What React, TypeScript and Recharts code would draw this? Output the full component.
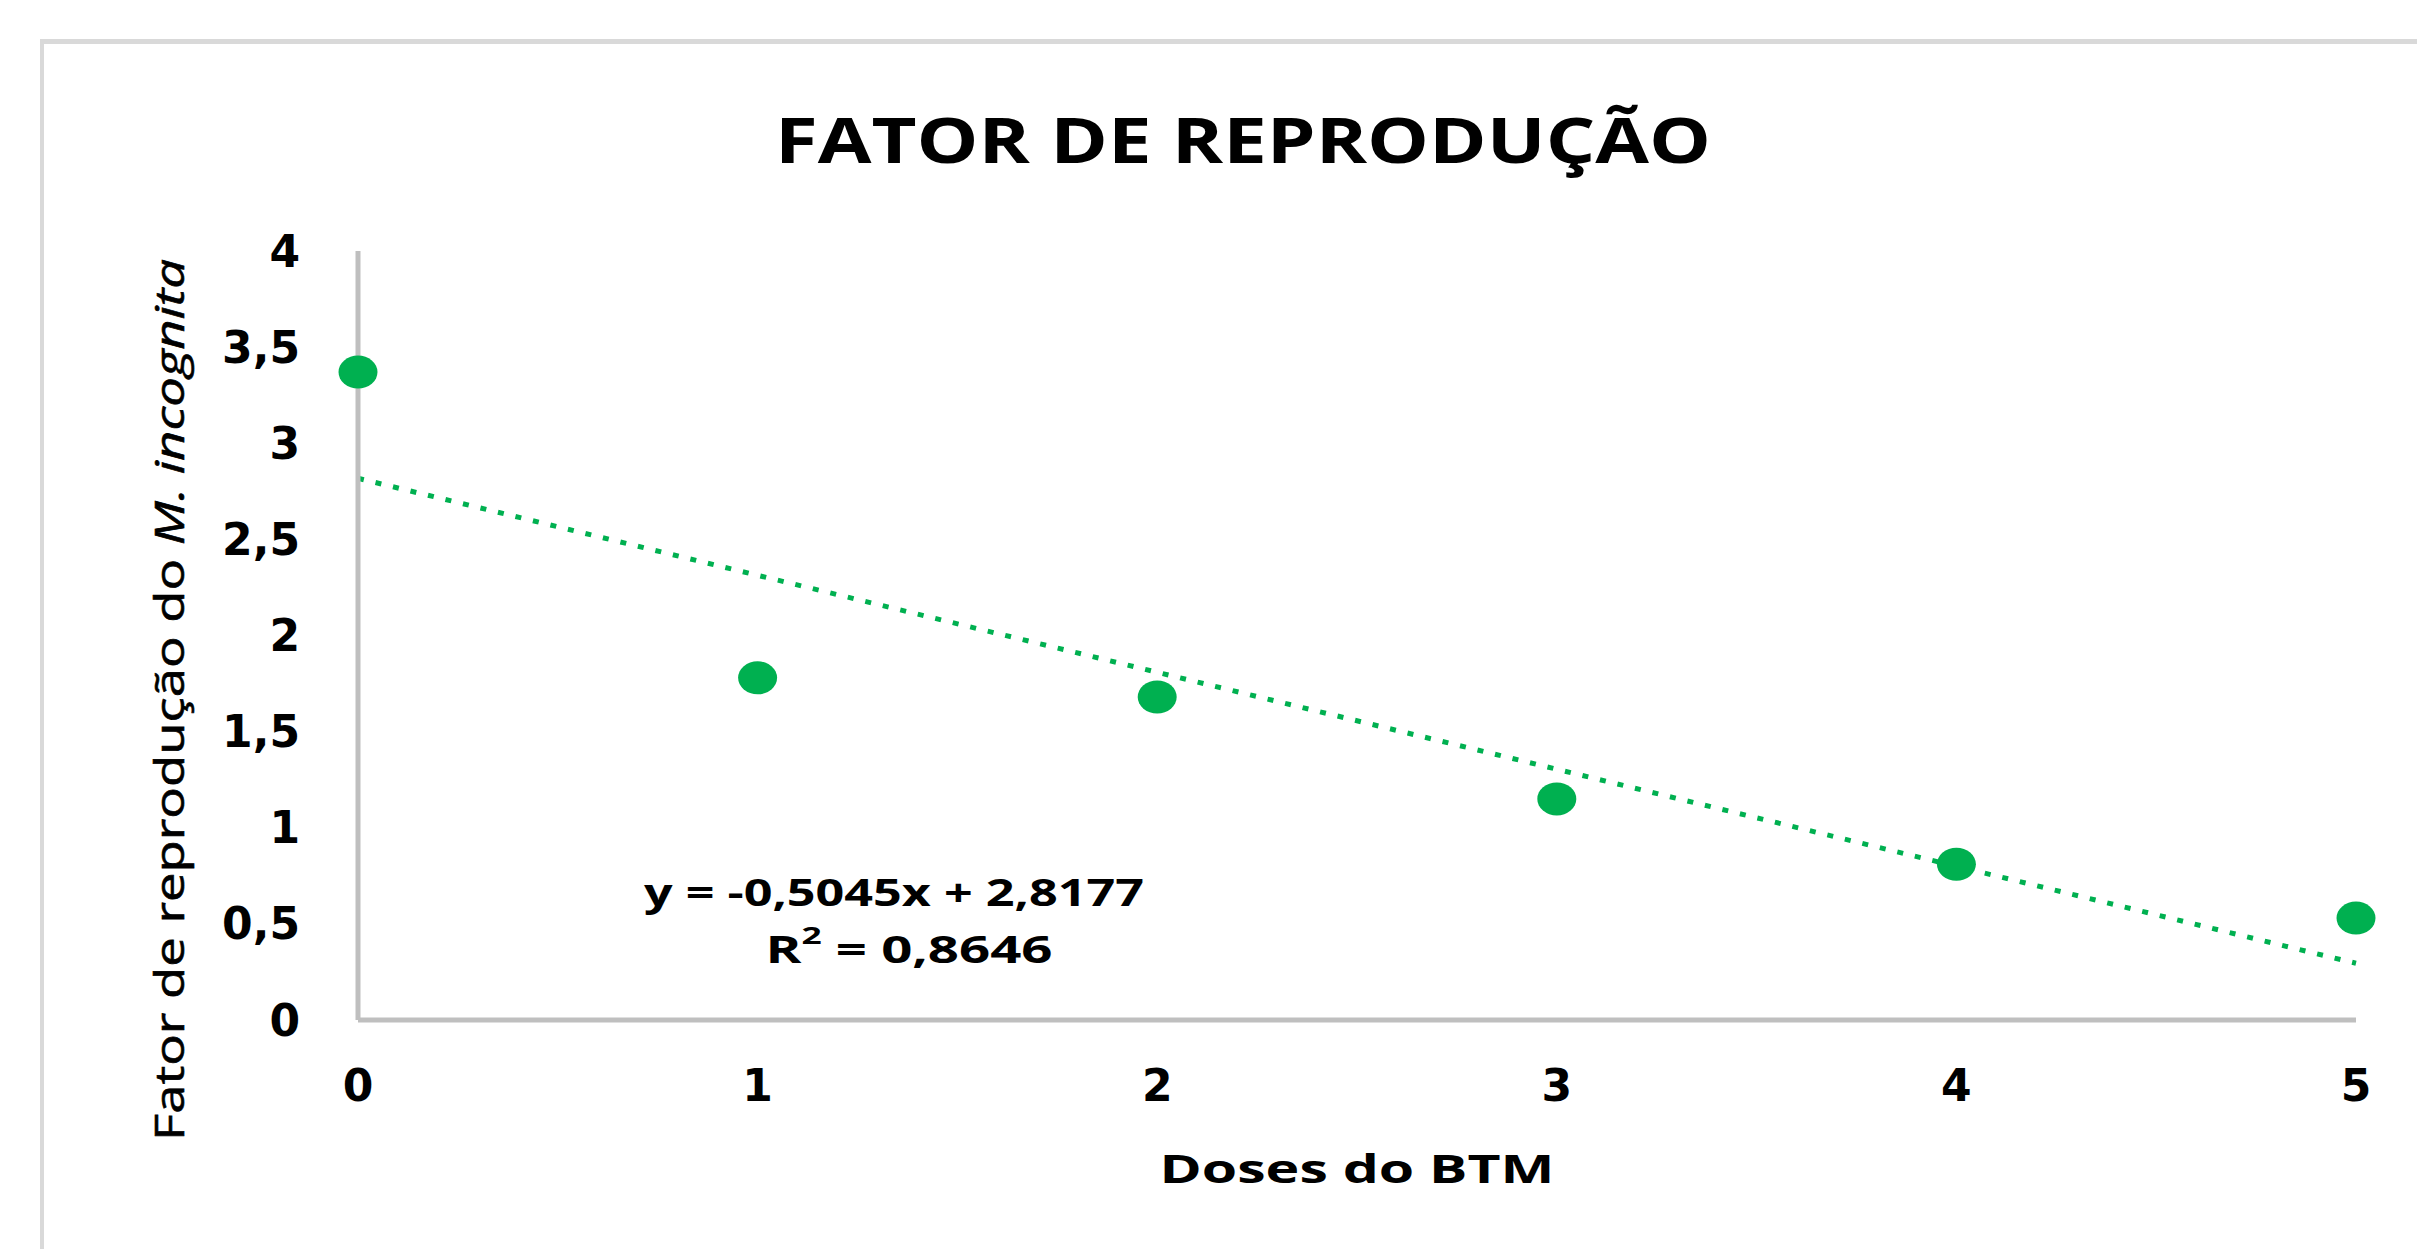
import { ScatterChart, Scatter, XAxis, YAxis, ReferenceLine, Customized, Label } from "recharts";

const doses = [0, 1, 2, 3, 4, 5];
const fatorReproducao = [3.37, 1.78, 1.68, 1.15, 0.81, 0.53];
const yTicks = [0, 0.5, 1, 1.5, 2, 2.5, 3, 3.5, 4];
const xTicks = [0, 1, 2, 3, 4, 5];
const slope = -0.5045;
const intercept = 2.8177;
const rSquared = 0.8646;

const points = doses.map((x, i) => ({ x, y: fatorReproducao[i] }));
const green = "#00B050";
const axisGrey = "#BFBFBF";
const font = "'Open Sans', 'Noto Sans', sans-serif";
const tickFont = "'DejaVu Sans', sans-serif";

const fmt = (v: number, d?: number) =>
  (d === undefined ? String(v) : v.toFixed(d)).replace(".", ",");

const Dot = (props: any) => (
  <ellipse cx={props.cx} cy={props.cy} rx={19.5} ry={16.5} fill={green} />
);

const Overlay = () => (
  <g fontFamily={font} fill="#000">
    <text x={1243} y={139} textAnchor="middle" dominantBaseline="central" fontSize={62}
      fontWeight={700} textLength={936} lengthAdjust="spacingAndGlyphs">
      FATOR DE REPRODUÇÃO
    </text>
    <text x={894} y={891} textAnchor="middle" dominantBaseline="central" fontSize={37}
      fontWeight={700} textLength={500} lengthAdjust="spacingAndGlyphs">
      {`y = ${fmt(slope)}x + ${fmt(intercept)}`}
    </text>
    <text x={909} y={948} textAnchor="middle" dominantBaseline="central" fontSize={37}
      fontWeight={700} textLength={287} lengthAdjust="spacingAndGlyphs">
      R<tspan dy={-14} fontSize={24}>2</tspan><tspan dy={14}>{` = ${fmt(rSquared)}`}</tspan>
    </text>
  </g>
);

const YLabel = () => (
  <text x={0} y={0} transform="translate(184,700) rotate(-90)" textAnchor="middle"
    fontFamily={font} fontSize={41} fill="#000" stroke="#000" strokeWidth={0.6}
    textLength={882} lengthAdjust="spacingAndGlyphs">
    Fator de reprodução do <tspan fontStyle="italic">M. incognita</tspan>
  </text>
);

const XLabel = () => (
  <text x={1357} y={1167} textAnchor="middle" dominantBaseline="central" fontFamily={font}
    fontSize={40} fontWeight={700} fill="#000" textLength={395} lengthAdjust="spacingAndGlyphs">
    Doses do BTM
  </text>
);

export default function App() {
  return (
    <div style={{ position: "absolute", left: 0, top: 0, width: 2417, height: 1249, background: "#fff" }}>
      <div style={{ position: "absolute", left: 40, top: 39, width: 2400, height: 1300,
        borderTop: "5px solid #D9D9D9", borderLeft: "4px solid #D9D9D9" }} />
      <div style={{ position: "absolute", left: 0, top: 0 }}>
        <ScatterChart width={2417} height={1249} margin={{ top: 251, right: 61, left: 0, bottom: 0 }}>
          <XAxis type="number" dataKey="x" domain={[0, 5]} ticks={xTicks} height={229}
            axisLine={{ stroke: axisGrey, strokeWidth: 5 }} tickLine={false} tickMargin={44}
            tick={{ fontFamily: tickFont, fontSize: 44, fontWeight: 700, fill: "#000" }}>
            <Label content={<XLabel />} />
          </XAxis>
          <YAxis type="number" dataKey="y" domain={[0, 4]} ticks={yTicks} width={358}
            axisLine={{ stroke: axisGrey, strokeWidth: 5 }} tickLine={false} tickMargin={52}
            tickFormatter={(v: number) => fmt(v)}
            tick={{ fontFamily: tickFont, fontSize: 44, fontWeight: 700, fill: "#000" }}>
            <Label content={<YLabel />} />
          </YAxis>
          <ReferenceLine
            segment={[{ x: 0, y: intercept }, { x: 5, y: intercept + slope * 5 }]}
            stroke={green} strokeWidth={5} strokeDasharray="6 12" ifOverflow="extendDomain" />
          <Scatter data={points} fill={green} shape={<Dot />} isAnimationActive={false} />
          <Customized component={<Overlay />} />
        </ScatterChart>
      </div>
    </div>
  );
}
